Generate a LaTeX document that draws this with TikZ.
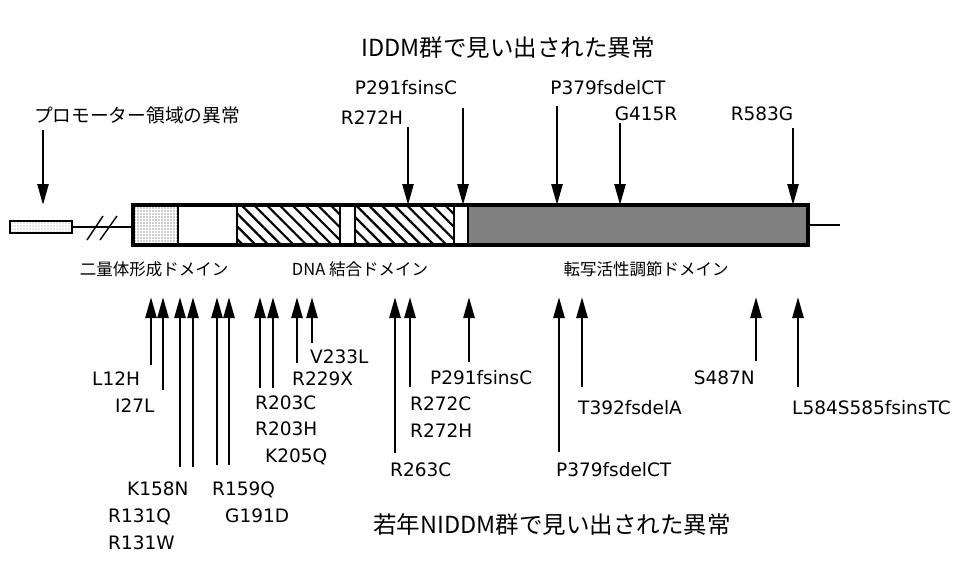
\documentclass[tikz,border=0pt]{standalone}
\usepackage{fontspec}
\setmainfont{Noto Sans CJK JP}
\newfontfamily\latf{DejaVu Sans}
\usetikzlibrary{arrows.meta,patterns.meta}
\tikzset{
  lbl/.style={font=\latf\fontsize{18.5}{20}\selectfont, inner sep=0pt},
  jp/.style={inner sep=0pt, anchor=base},
  arr/.style={line width=2.6pt, -{Triangle[length=21pt,width=11pt]}},
  hatch/.style={pattern={Lines[angle=-45,distance=9pt,line width=2.2pt]}},
  stip/.style={pattern={Dots[distance=3pt,radius=0.7pt]}, pattern color=black!80},
  darkfill/.style={fill=black!50},
  sep/.style={line width=2.4pt},
}
\begin{document}
\begin{tikzpicture}[x=1pt,y=-1pt]
\useasboundingbox (0,0) rectangle (958,562);
% titles
\node[jp, font=\fontsize{23.5}{25}\selectfont] (title) at (508,56) {IDDM群で見い出された異常};
\node[jp, font=\fontsize{23.5}{25}\selectfont] (btitle) at (552,533) {若年NIDDM群で見い出された異常};
\node[jp, font=\fontsize{18.7}{20}\selectfont] (prom) at (137,122) {プロモーター領域の異常};
% domain labels
\node[jp, font=\fontsize{16.5}{18}\selectfont] (d1) at (154,275) {二量体形成ドメイン};
\node[jp, font=\fontsize{16.5}{18}\selectfont] (d2) at (360,275) {DNA 結合ドメイン};
\node[jp, font=\fontsize{16.5}{18}\selectfont] (d3) at (646,275) {転写活性調節ドメイン};
% promoter box and line
\draw[line width=1.8pt, stip, pattern color=black!40] (10,221) rectangle (72,233);
\coordinate (pl) at (72,227);
\coordinate (bl) at (133,227);
\draw[line width=1.6pt] (pl) -- (bl);
\coordinate (s1a) at (87,240); \coordinate (s1b) at (103,216);
\coordinate (s2a) at (100,240); \coordinate (s2b) at (117,216);
\draw[line width=1.4pt] (s1a) -- (s1b);
\draw[line width=1.4pt] (s2a) -- (s2b);
\coordinate (br) at (808,225);
\coordinate (brr) at (840,225);
\draw[line width=1.6pt] (br) -- (brr);
% bar segments
\fill[white] (133,205) rectangle (808,245);
\fill[stip] (133,205) rectangle (178,245);
\fill[hatch] (237,205) rectangle (340,245);
\fill[hatch] (355,205) rectangle (454,245);
\fill[darkfill] (468,205) rectangle (808,245);
\draw[sep] (178,205) -- (178,245);
\draw[sep] (237,205) -- (237,245);
\draw[sep] (340,205) -- (340,245);
\draw[sep] (355,205) -- (355,245);
\draw[sep] (454,205) -- (454,245);
\draw[sep] (468,205) -- (468,245);
\draw[line width=3.2pt] (133,205) rectangle (808,245);
% top arrows
\coordinate (pa) at (43,130); \coordinate (pb) at (43,205);
\draw[arr] (pa) -- (pb);
\node[lbl, anchor=base] (u1) at (372,124) {R272H};
\coordinate (u1a) at (408,127); \coordinate (u1b) at (408,205);
\draw[arr] (u1a) -- (u1b);
\node[lbl, anchor=base] (u2) at (406,94) {P291fsinsC};
\coordinate (u2a) at (463,108); \coordinate (u2b) at (463,205);
\draw[arr] (u2a) -- (u2b);
\node[lbl, anchor=base] (u3) at (608,94) {P379fsdelCT};
\coordinate (u3a) at (557,106); \coordinate (u3b) at (557,205);
\draw[arr] (u3a) -- (u3b);
\node[lbl, anchor=base] (u4) at (646,120) {G415R};
\coordinate (u4a) at (620,123); \coordinate (u4b) at (620,205);
\draw[arr] (u4a) -- (u4b);
\node[lbl, anchor=base] (u5) at (762,120) {R583G};
\coordinate (u5a) at (793,128); \coordinate (u5b) at (793,205);
\draw[arr] (u5a) -- (u5b);
% bottom arrows
\foreach \n/\x/\y in {1/151/365, 2/163/390, 3/180/467, 4/193/467, 5/217/465, 6/229/465, 7/260/388, 8/273/388, 9/297/363, 10/312/343, 11/395/453, 12/410/387, 13/469/362, 14/559/452, 15/582/387, 16/756/361, 17/798/387}{
  \coordinate (b\n a) at (\x,\y);
  \coordinate (b\n b) at (\x,297);
  \draw[arr] (b\n a) -- (b\n b);
}
% bottom labels
\node[lbl, anchor=base west] (l1) at (92,385) {L12H};
\node[lbl, anchor=base west] (l2) at (115,412) {I27L};
\node[lbl, anchor=base west] (l3) at (127,495) {K158N};
\node[lbl, anchor=base west] (l4) at (108,522) {R131Q};
\node[lbl, anchor=base west] (l5) at (108,549) {R131W};
\node[lbl, anchor=base west] (l6) at (212,495) {R159Q};
\node[lbl, anchor=base west] (l7) at (225,522) {G191D};
\node[lbl, anchor=base west] (l8) at (255,409) {R203C};
\node[lbl, anchor=base west] (l9) at (255,435) {R203H};
\node[lbl, anchor=base west] (l10) at (265,462) {K205Q};
\node[lbl, anchor=base west] (l11) at (292,385) {R229X};
\node[lbl, anchor=base west] (l12) at (310,363) {V233L};
\node[lbl, anchor=base west] (l13) at (390,476) {R263C};
\node[lbl, anchor=base west] (l14) at (410,410) {R272C};
\node[lbl, anchor=base west] (l15) at (410,437) {R272H};
\node[lbl, anchor=base west] (l16) at (430,384) {P291fsinsC};
\node[lbl, anchor=base west] (l17) at (556,476) {P379fsdelCT};
\node[lbl, anchor=base west] (l18) at (578,414) {T392fsdelA};
\node[lbl, anchor=base east] (l19) at (755,384) {S487N};
\node[lbl, anchor=base west] (l20) at (792,414) {L584S585fsinsTC};
\end{tikzpicture}
\end{document}
